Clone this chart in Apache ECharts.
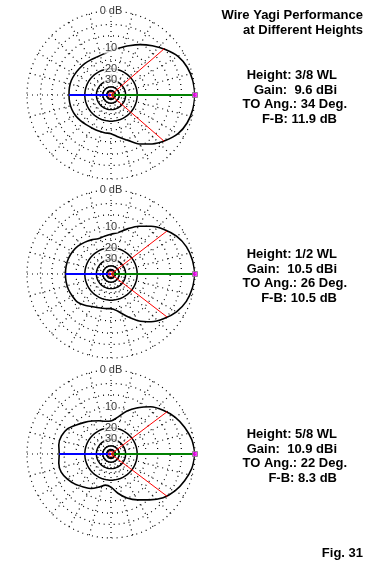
<!DOCTYPE html>
<html>
<head>
<meta charset="utf-8">
<script src="https://cdn.jsdelivr.net/npm/echarts@6/dist/echarts.min.js"></script>
<style>
    html, body { margin: 0; padding: 0; background: #fff; }
    #chart { width: 376px; height: 570px; }
</style>
</head>
<body>
<div id="chart"></div>
<script>
    // azimuth angles, deg (0 = forward, counter-clockwise)
    var angles = [0, 10, 20, 30, 40, 50, 60, 70, 80, 90, 100, 110, 120, 130, 140, 150, 160, 170,
                  180, 190, 200, 210, 220, 230, 240, 250, 260, 270, 280, 290, 300, 310, 320, 330, 340, 350];
    // relative gain, dB below max
    var gain38 = [0, -0.2, -0.6, -1.4, -2.9, -4.6, -6.3, -8.1, -9.7, -10.9, -12.0, -12.5, -12.5, -12.3, -12.2, -12.0, -11.8, -11.8,
                  -11.9, -11.9, -12.0, -12.3, -12.8, -13.3, -13.6, -13.6, -13.5, -13.3, -11.6, -9.6, -6.8, -4.7, -2.9, -1.4, -0.6, -0.2];
    var gain12 = [0, -0.3, -0.8, -1.8, -3.3, -5.1, -7.2, -9.6, -11.8, -12.8, -13.5, -13.8, -13.0, -12.2, -11.4, -10.9, -10.6, -10.5,
                  -10.5, -10.5, -10.6, -10.9, -11.2, -12.4, -13.8, -14.6, -15.0, -15.2, -13.8, -10.8, -7.6, -5.1, -3.3, -1.8, -0.8, -0.3];
    var gain58 = [0, -0.4, -1.2, -2.2, -3.6, -5.3, -7.8, -10.5, -14.0, -16.0, -15.9, -14.8, -13.6, -12.2, -10.6, -8.8, -8.0, -7.9,
                  -8.3, -7.9, -7.9, -8.8, -10.0, -11.5, -12.8, -14.9, -16.8, -16.0, -12.8, -10.0, -7.9, -5.8, -3.6, -2.2, -1.2, -0.4];

    var heights = ['3/8 WL', '1/2 WL', '5/8 WL'];
    var gains = ['9.6', '10.5', '10.9'];
    var toAngles = ['34', '26', '22'];
    var frontBack = [11.9, 10.5, 8.3];
    var halfPowerAngle = [41, 37.5, 37];

    var dottedRings = [-3, -6, -10, -15, -25, -35];
    var solidRings = [-20, -30, -40, -50];
    var ringLabelDb = [0, -10, -20, -30];
    var ringLabelText = ['0 dB', '10', '20', '30'];

    var titleLines = ['Wire Yagi Performance', 'at Different Heights'];
    var figLabel = 'Fig. 31';

    var patterns = [gain38, gain12, gain58];
    var centersY = [95, 274, 454];

    // ARRL log scale: radius drops by 0.89 every 2 dB
    function arrl(db) {
        return Math.pow(0.89, -db / 2);
    }

    var chart = echarts.init(document.getElementById('chart'));
    var polar = [], angleAxis = [], radiusAxis = [], series = [], graphic = [];
    var dots = [1, 4];

    function ring(db) {
        var d = [];
        for (var a = 0; a <= 360; a += 3) d.push([arrl(db), a]);
        return d;
    }

    patterns.forEach(function (pat, i) {
        polar.push({ center: [111, centersY[i]], radius: 84 });
        angleAxis.push({
            polarIndex: i, type: 'value', min: 0, max: 360, interval: 15,
            startAngle: 0, clockwise: false,
            axisLine: { show: true, lineStyle: { color: '#000', width: 1.2, type: dots } },
            axisTick: { show: false }, axisLabel: { show: false },
            splitLine: { show: true, lineStyle: { color: '#000', width: 1.2, type: dots } }
        });
        radiusAxis.push({
            polarIndex: i, type: 'value', min: 0, max: 1,
            axisLine: { show: false }, axisTick: { show: false }, axisLabel: { show: false },
            splitLine: { show: false }
        });

        dottedRings.forEach(function (db) {
            series.push({
                type: 'line', coordinateSystem: 'polar', polarIndex: i, silent: true, symbol: 'none',
                data: ring(db), lineStyle: { color: '#000', width: 1.2, type: dots }, z: 1
            });
        });
        solidRings.forEach(function (db) {
            series.push({
                type: 'line', coordinateSystem: 'polar', polarIndex: i, silent: true, symbol: 'none',
                data: ring(db), lineStyle: { color: '#000', width: 1.5 }, z: 2
            });
        });

        // pattern
        var pd = angles.map(function (a, k) { return [arrl(pat[k]), a]; });
        pd.push([arrl(pat[0]), 360]);
        series.push({
            type: 'line', coordinateSystem: 'polar', polarIndex: i, silent: true, symbol: 'none',
            smooth: 0.3, data: pd, lineStyle: { color: '#000', width: 1.6 }, z: 3
        });

        // forward / back / half power lines
        series.push({
            type: 'line', coordinateSystem: 'polar', polarIndex: i, silent: true, symbol: 'none',
            data: [[0, 0], [arrl(0), 0]], lineStyle: { color: '#008000', width: 2 }, z: 4
        });
        series.push({
            type: 'line', coordinateSystem: 'polar', polarIndex: i, silent: true, symbol: 'none',
            data: [[0, 180], [arrl(-frontBack[i]), 180]], lineStyle: { color: '#0000ff', width: 2 }, z: 4
        });
        [halfPowerAngle[i], 360 - halfPowerAngle[i]].forEach(function (a) {
            series.push({
                type: 'line', coordinateSystem: 'polar', polarIndex: i, silent: true, symbol: 'none',
                data: [[0, a], [arrl(-3), a]], lineStyle: { color: '#ff0000', width: 1 }, z: 4
            });
        });
        series.push({
            type: 'scatter', coordinateSystem: 'polar', polarIndex: i, silent: true,
            symbol: 'rect', symbolSize: 5, data: [[arrl(0), 0]],
            itemStyle: { color: '#ff00ff', borderColor: '#808080', borderWidth: 1 }, z: 6
        });
        series.push({
            type: 'scatter', coordinateSystem: 'polar', polarIndex: i, silent: true,
            symbol: 'circle', symbolSize: 5, data: [[0, 0]],
            itemStyle: { color: 'rgba(0,0,0,0)', borderColor: '#ff0000', borderWidth: 1 }, z: 6
        });

        // ring labels
        series.push({
            type: 'scatter', coordinateSystem: 'polar', polarIndex: i, silent: true,
            symbolSize: 1, itemStyle: { color: 'rgba(0,0,0,0)' },
            data: ringLabelDb.map(function (db, k) { return { value: [arrl(db), 90], name: ringLabelText[k] }; }),
            label: {
                show: true, position: 'inside', formatter: '{b}', color: '#000',
                fontFamily: 'Liberation Sans', fontSize: 11, backgroundColor: '#fff', padding: [0, 1]
            },
            z: 7
        });

        // info text
        var cy = centersY[i];
        var lines = ['Height: ' + heights[i], 'Gain:  ' + gains[i] + ' dBi',
                     'TO Ang.: ' + toAngles[i] + ' Deg.', 'F-B: ' + frontBack[i] + ' dB'];
        var rightX = [337, 337, 347, 337];
        var dy = [-19.5, -5, 9.5, 24];
        lines.forEach(function (t, k) {
            graphic.push({
                type: 'text', silent: true,
                style: {
                    text: t, x: rightX[k], y: cy + dy[k], align: 'right', verticalAlign: 'middle',
                    textAlign: 'right', textVerticalAlign: 'middle',
                    font: 'bold 13px "Liberation Sans"', fill: '#000'
                }
            });
        });
    });

    titleLines.forEach(function (t, k) {
        graphic.push({
            type: 'text', silent: true,
            style: {
                text: t, x: 363, y: 15 + k * 15, align: 'right', verticalAlign: 'middle',
                textAlign: 'right', textVerticalAlign: 'middle',
                font: 'bold 13px "Liberation Sans"', fill: '#000'
            }
        });
    });
    graphic.push({
        type: 'text', silent: true,
        style: {
            text: figLabel, x: 363, y: 553, align: 'right', verticalAlign: 'middle',
            textAlign: 'right', textVerticalAlign: 'middle',
            font: 'bold 13px "Liberation Sans"', fill: '#000'
        }
    });

    chart.setOption({
        animation: false,
        backgroundColor: '#fff',
        polar: polar,
        angleAxis: angleAxis,
        radiusAxis: radiusAxis,
        series: series,
        graphic: graphic
    });
    window.addEventListener('resize', function () { chart.resize(); });
</script>
</body>
</html>
